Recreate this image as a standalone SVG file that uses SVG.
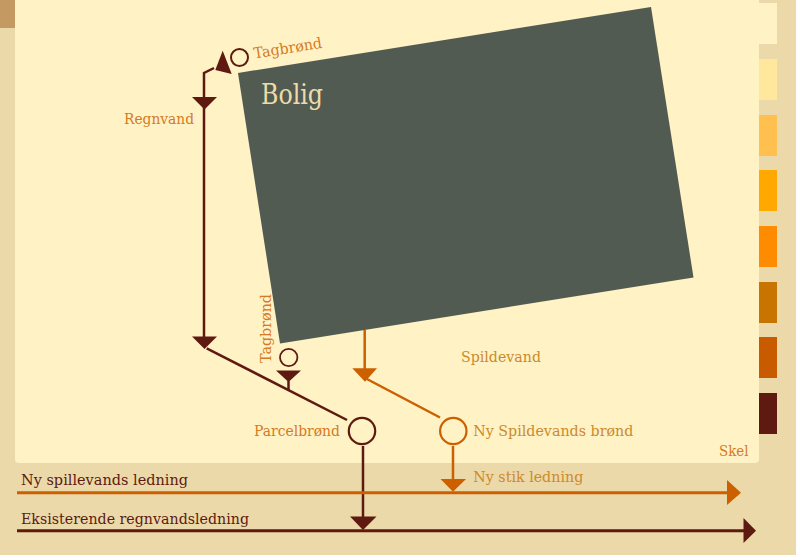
<svg xmlns="http://www.w3.org/2000/svg" width="796" height="555" viewBox="0 0 796 555">
<style>
.lbl{font-family:"DejaVu Serif","Liberation Serif",serif;font-size:15px;fill:#D47A24}
.gold{fill:#CC8A2C}
.dark{font-family:"DejaVu Serif","Liberation Serif",serif;font-size:15.5px;fill:#5E1A10}
.rain{stroke:#5E1A10;stroke-width:2.5;fill:none}
.waste{stroke:#CC5F00;stroke-width:2.5;fill:none}
.rainf{fill:#5E1A10}
.wastef{fill:#CC5F00}
</style>
<rect x="0" y="0" width="796" height="555" fill="#ECD9A9"/>
<rect x="0" y="0" width="15" height="28" fill="#C49A62"/>
<path d="M15 0 H759 V459 A4 4 0 0 1 755 463 H19 A4 4 0 0 1 15 459 Z" fill="#FFF2C4"/>
<g id="swatches">
<rect x="759" y="3" width="18" height="41" fill="#FFF2C4"/>
<rect x="759" y="59" width="18" height="41" fill="#FFE79C"/>
<rect x="759" y="115" width="18" height="41" fill="#FFC04F"/>
<rect x="759" y="170" width="18" height="41" fill="#FFA800"/>
<rect x="759" y="226" width="18" height="41" fill="#FF8C00"/>
<rect x="759" y="282" width="18" height="41" fill="#C77400"/>
<rect x="759" y="337" width="18" height="41" fill="#C85A00"/>
<rect x="759" y="393" width="18" height="41" fill="#5E1A10"/>
</g>
<g id="bolig">
<polygon points="238,73 651,7 693.5,277.5 280,343.5" fill="#525B52"/>
<text x="261" y="104" font-family="DejaVu Serif, Liberation Serif, serif" font-size="27.5" fill="#EEDBA8" textLength="62" lengthAdjust="spacingAndGlyphs">Bolig</text>
</g>
<g id="connectors">
<path class="rain" d="M204 343 V73 L214 68"/>
<polygon class="rainf" points="222.7,50.7 215.3,70 231.7,74"/>
<polygon class="rainf" points="192,97 217,97 204.5,109.5"/>
<polygon class="rainf" points="192,336.5 217,336.5 204.5,349"/>
<path class="rain" d="M206.7 348.3 L347 420"/>
<polygon class="rainf" points="276,370.5 301,370.5 288.5,382"/>
<path class="rain" d="M288.5 381 V390"/>
<path class="rain" d="M363 446 V520"/>
<polygon class="rainf" points="350,516.5 376.5,516.5 363,530"/>
<path class="waste" d="M364.7 330 V372"/>
<polygon class="wastef" points="352.3,368.3 377,368.3 365,381.7"/>
<path class="waste" d="M365 378 L440 417.5"/>
<path class="waste" d="M453 446 V482"/>
<polygon class="wastef" points="440.5,479 466,479 453,491.7"/>
<path d="M17 492.7 H730" stroke="#CC5F00" stroke-width="3"/>
<polygon class="wastef" points="727,480 741,492.7 727,505"/>
<path d="M17 530.7 H746" stroke="#5E1A10" stroke-width="3"/>
<polygon class="rainf" points="743.5,518 756,530.7 743.5,543"/>
</g>
<g id="tagbrond-top">
<circle cx="239.5" cy="57.5" r="8.5" fill="none" stroke="#5E1A10" stroke-width="2"/>
<text class="lbl" transform="translate(254.5 58.5) rotate(-9)" textLength="69" lengthAdjust="spacingAndGlyphs">Tagbrønd</text>
</g>
<g id="regnvand"><text class="lbl" x="124" y="124" textLength="70" lengthAdjust="spacingAndGlyphs">Regnvand</text></g>
<g id="tagbrond-bottom">
<circle cx="288.7" cy="357.5" r="8.7" fill="none" stroke="#5E1A10" stroke-width="1.8"/>
<text class="lbl" transform="translate(270.5 363) rotate(-90)" textLength="69" lengthAdjust="spacingAndGlyphs">Tagbrønd</text>
</g>
<g id="parcelbrond">
<circle cx="362" cy="431" r="13.2" fill="none" stroke="#5E1A10" stroke-width="2.2"/>
<text class="lbl" x="254" y="436" textLength="86" lengthAdjust="spacingAndGlyphs">Parcelbrønd</text>
</g>
<g id="spildevand"><text class="lbl gold" x="461" y="362" textLength="80" lengthAdjust="spacingAndGlyphs">Spildevand</text></g>
<g id="ny-spildevands-brond">
<circle cx="453.3" cy="431" r="13.2" fill="none" stroke="#CC5F00" stroke-width="2.2"/>
<text class="lbl gold" x="473.3" y="436" textLength="160" lengthAdjust="spacingAndGlyphs">Ny Spildevands brønd</text>
</g>
<g id="ny-stik"><text class="lbl gold" x="473.3" y="482" textLength="110" lengthAdjust="spacingAndGlyphs">Ny stik ledning</text></g>
<g id="skel"><text class="lbl" x="719" y="456" textLength="29.5" lengthAdjust="spacingAndGlyphs">Skel</text></g>
<g id="ny-spillevands-ledning"><text class="dark" x="21" y="485" textLength="167" lengthAdjust="spacingAndGlyphs">Ny spillevands ledning</text></g>
<g id="eksisterende"><text class="dark" x="21" y="523.5" textLength="228" lengthAdjust="spacingAndGlyphs">Eksisterende regnvandsledning</text></g>
</svg>
